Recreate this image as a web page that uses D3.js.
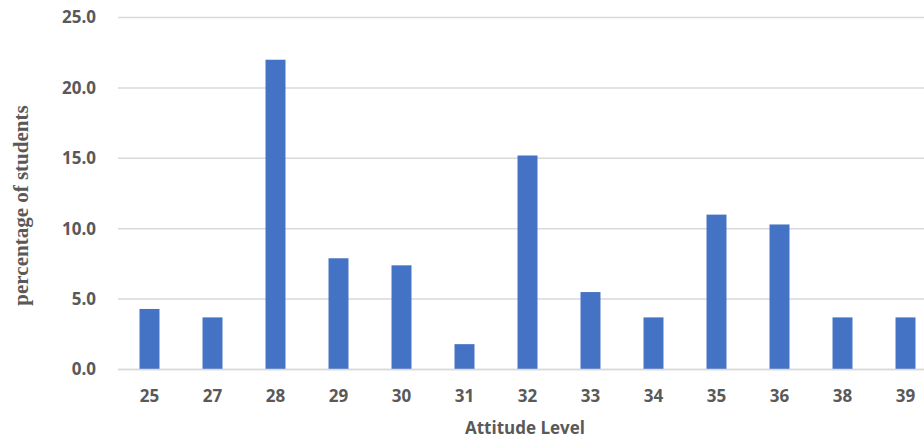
<!DOCTYPE html>
<html>
<head>
<meta charset="utf-8">
<script src="https://cdn.jsdelivr.net/npm/d3@7"></script>
<style>
  body { margin: 0; background: #fff; }
</style>
</head>
<body>
<div id="chart"></div>
<script>
// Attitude levels and share of students at each level
const levels = ["25", "27", "28", "29", "30", "31", "32", "33", "34", "35", "36", "38", "39"];
const percents = [4.3, 3.7, 22.0, 7.9, 7.4, 1.8, 15.2, 5.5, 3.7, 11.0, 10.3, 3.7, 3.7];
const yTicks = [0, 5, 10, 15, 20, 25];

const W = 924, H = 442;
const margin = { top: 17.5, right: -13, bottom: 72.5, left: 118 };
const width = W - margin.left - margin.right;
const height = H - margin.top - margin.bottom;

const svg = d3.select("#chart")
    .append("svg")
    .attr("width", W)
    .attr("height", H);

const g = svg.append("g")
    .attr("transform", `translate(${margin.left}, ${margin.top})`);

const x = d3.scaleBand()
    .domain(levels)
    .range([0, width])
    .paddingInner(0.683)
    .paddingOuter(0.3415);

const y = d3.scaleLinear()
    .domain([0, 25])
    .range([height, 0]);

// gridlines
g.selectAll(".grid")
    .data(yTicks)
    .enter()
    .append("line")
    .attr("x1", 0)
    .attr("x2", width)
    .attr("y1", d => y(d))
    .attr("y2", d => y(d))
    .attr("stroke", "#d9d9d9")
    .attr("stroke-width", 1.5);

// y tick labels
const yAxis = d3.axisLeft(y).tickValues(yTicks).tickFormat(d3.format(".1f")).tickSize(0).tickPadding(22);
g.append("g")
    .call(yAxis)
    .call(s => s.select(".domain").remove())
    .selectAll("text")
    .style("font-family", "'Open Sans', sans-serif")
    .style("font-weight", "bold")
    .style("font-size", "17px")
    .style("fill", "#595959");

// bars
g.selectAll(".bar")
    .data(levels.map((l, i) => ({ level: l, value: percents[i] })))
    .enter()
    .append("rect")
    .attr("class", "bar")
    .attr("x", d => x(d.level))
    .attr("y", d => y(d.value))
    .attr("width", x.bandwidth())
    .attr("height", d => y(0) - y(d.value))
    .attr("fill", "#4472c4");

// baseline on top of bars
g.append("line")
    .attr("x1", 0)
    .attr("x2", width)
    .attr("y1", y(0))
    .attr("y2", y(0))
    .attr("stroke", "#d9d9d9")
    .attr("stroke-width", 1.5);

// x tick labels
const xAxis = d3.axisBottom(x).tickSize(0).tickPadding(20);
g.append("g")
    .attr("transform", `translate(0, ${height})`)
    .call(xAxis)
    .call(s => s.select(".domain").remove())
    .selectAll("text")
    .style("font-family", "'Open Sans', sans-serif")
    .style("font-weight", "bold")
    .style("font-size", "17px")
    .style("fill", "#595959");

// axis titles
svg.append("text")
    .attr("x", 525)
    .attr("y", 434)
    .attr("text-anchor", "middle")
    .style("font-family", "'Open Sans', sans-serif")
    .style("font-weight", "bold")
    .style("font-size", "17px")
    .style("fill", "#595959")
    .text("Attitude Level");

svg.append("text")
    .attr("transform", "translate(28, 205.5) rotate(-90)")
    .attr("text-anchor", "middle")
    .style("font-family", "'Liberation Serif', 'Times New Roman', serif")
    .style("font-weight", "bold")
    .style("font-size", "21px")
    .style("fill", "#595959")
    .text("percentage of students");
</script>
</body>
</html>
